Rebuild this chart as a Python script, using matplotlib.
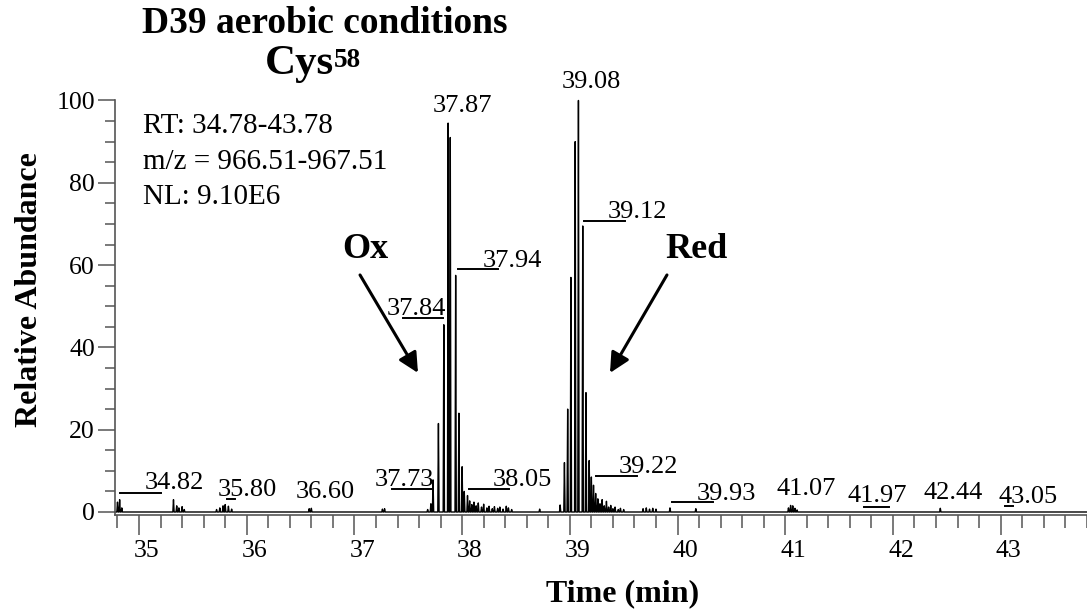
import numpy as np
import matplotlib
matplotlib.use("Agg")
import matplotlib.pyplot as plt
from matplotlib.ticker import MultipleLocator
from matplotlib.transforms import ScaledTranslation

plt.rcParams['font.family'] = ['Liberation Serif', 'DejaVu Serif']

# scan points of the XIC (retention time in min, relative abundance in %)
scan_times = [
    34.80, 34.82, 34.84,
    35.32, 35.35, 35.37, 35.40, 35.42,
    35.72, 35.75, 35.78, 35.80, 35.83, 35.86,
    36.58, 36.60,
    37.26, 37.28,
    37.68, 37.71, 37.73, 37.78, 37.83, 37.87, 37.89, 37.94, 37.97, 38.00, 38.02, 38.05,
    38.07, 38.09, 38.11, 38.13, 38.15, 38.18, 38.20, 38.23, 38.25, 38.28, 38.30, 38.33,
    38.35, 38.38, 38.41, 38.43, 38.46,
    38.72,
    38.91, 38.95, 38.98, 39.01, 39.05, 39.08, 39.12, 39.15, 39.18, 39.20, 39.22, 39.24,
    39.26, 39.28, 39.30, 39.32, 39.34, 39.36, 39.38, 39.40, 39.42, 39.45, 39.47, 39.50,
    39.68, 39.71, 39.74, 39.77, 39.80,
    39.93, 40.17,
    41.03, 41.05, 41.07, 41.09, 41.11,
    42.44,
]
scan_abund = [
    2.4, 3.0, 1.0,
    3.0, 1.5, 1.0, 1.3, 0.6,
    0.6, 1.0, 1.5, 1.8, 1.4, 0.7,
    0.8, 0.9,
    0.7, 0.8,
    0.6, 2.0, 7.8, 21.5, 45.5, 94.5, 91.0, 57.5, 24.0, 11.0, 5.0, 4.0,
    2.7, 1.8, 2.4, 1.5, 2.2, 1.2, 1.9, 1.0, 1.4, 0.8, 1.3, 0.9,
    1.2, 0.7, 1.4, 1.0, 0.6,
    0.7,
    1.7, 12.0, 25.0, 57.0, 90.0, 100.0, 69.5, 29.0, 12.5, 8.5, 6.5, 4.5,
    3.2, 2.0, 3.0, 1.5, 2.6, 1.2, 1.6, 0.8, 1.2, 0.6, 0.9, 0.6,
    0.8, 1.0, 0.7, 0.9, 0.7,
    1.0, 0.8,
    1.0, 1.6, 1.5, 0.9, 0.5,
    0.9,
]

# labelled retention times
peak_labels = ["34.82", "35.80", "36.60", "37.73", "37.84", "37.87", "37.94", "38.05",
               "39.08", "39.12", "39.22", "39.93", "41.07", "41.97", "42.44", "43.05"]

info_lines = ["RT: 34.78-43.78", "m/z = 966.51-967.51", "NL: 9.10E6"]

# where each label sits (data coords) and its leader line (x0, x1, y)
label_layout = [
    ((35.056, 5.6), (34.824, 35.204, 4.6)),
    ((35.734, 3.9), (35.817, 35.891, 3.2)),
    ((36.458, 3.4), None),
    ((37.191, 6.3), (37.349, 37.730, 5.6)),
    ((37.303, 47.9), (37.451, 37.822, 47.1)),
    ((37.730, 97.2), None),
    ((38.194, 59.5), (37.962, 38.334, 59.0)),
    ((38.287, 6.3), (38.064, 38.436, 5.6)),
    ((38.928, 103.0), None),
    ((39.355, 71.4), (39.132, 39.513, 70.7)),
    ((39.457, 9.5), (39.243, 39.624, 8.7)),
    ((40.181, 2.9), (39.949, 40.330, 2.4)),
    ((40.915, 4.1), None),
    ((41.574, 2.4), (41.732, 41.964, 1.2)),
    ((42.280, 3.2), None),
    ((42.976, 2.2), (43.041, 43.115, 1.5)),
]

axis_grey = "#555555"

fig = plt.figure(figsize=(10.87, 6.13), dpi=100)
ax = fig.add_axes([0.1061, 0.1594, 0.8937, 0.6767])

# each scan is a narrow spike that returns to the baseline
t = np.array(scan_times)
a = np.array(scan_abund)
w = 0.006
xs = np.column_stack([t - w, t, t + w]).ravel()
ys = np.column_stack([np.zeros_like(a), a, np.zeros_like(a)]).ravel()
xs = np.concatenate([[34.78], xs, [43.80]])
ys = np.concatenate([[0], ys, [0]])
ax.plot(xs, ys, color="black", lw=1.0, clip_on=False)

ax.set_xlim(34.78, 43.80)
ax.set_ylim(-0.8, 100)

for sp in ["top", "right"]:
    ax.spines[sp].set_visible(False)
for sp in ["left", "bottom"]:
    ax.spines[sp].set_color(axis_grey)
    ax.spines[sp].set_linewidth(1.2)

ax.xaxis.set_major_locator(MultipleLocator(1))
ax.xaxis.set_minor_locator(MultipleLocator(0.2))
ax.yaxis.set_major_locator(MultipleLocator(20))
ax.yaxis.set_minor_locator(MultipleLocator(5))
ax.tick_params(axis="x", which="major", length=14.5, width=1.1, color=axis_grey,
               labelsize=18.5, pad=3.5)
ax.tick_params(axis="x", which="minor", length=9.5, width=1.1, color=axis_grey)
ax.tick_params(axis="y", which="major", length=12.2, width=1.1, color=axis_grey,
               labelsize=18.5, pad=2.5)
ax.tick_params(axis="y", which="minor", length=7.2, width=1.1, color=axis_grey)

ax.set_xticks(np.arange(35, 44))
ax.set_xticklabels([str(v) for v in range(35, 44)])
shift = ScaledTranslation(8 / 100, 0, fig.dpi_scale_trans)
for lab in ax.get_xticklabels():
    lab.set_transform(lab.get_transform() + shift)

# peak labels with leader lines
for text, (pos, leader) in zip(peak_labels, label_layout):
    ax.text(pos[0], pos[1], text, fontsize=19, ha="left", va="baseline", clip_on=False)
    if leader is not None:
        ax.plot([leader[0], leader[1]], [leader[2], leader[2]], color="black",
                lw=1.4, clip_on=False)

# Ox / Red markers
arrow = dict(arrowstyle="-|>", color="black", lw=2.2, mutation_scale=30,
             shrinkA=0, shrinkB=0)
ax.text(37.101, 61.7, "Ox", fontsize=26, fontweight="bold", ha="center", va="baseline")
ax.annotate("", xy=(37.590, 33.8), xytext=(37.052, 57.6), arrowprops=arrow)
ax.text(40.18, 61.7, "Red", fontsize=26, fontweight="bold", ha="center", va="baseline")
ax.annotate("", xy=(39.373, 33.8), xytext=(39.902, 57.6), arrowprops=arrow)

# acquisition info
for i, line in enumerate(info_lines):
    fig.text(143 / 1087, 1 - (133 + 35.5 * i) / 613, line, fontsize=21, va="baseline")

# title
fig.text(325 / 1087, 1 - 33 / 613, "D39 aerobic conditions", fontsize=27,
         fontweight="bold", ha="center", va="baseline")
fig.text(265 / 1087, 1 - 74 / 613, "Cys", fontsize=31, fontweight="bold",
         ha="left", va="baseline")
fig.text(334 / 1087, 1 - 67 / 613, "58", fontsize=19.5, fontweight="bold",
         ha="left", va="baseline")

ax.set_xlabel("Time (min)", fontsize=23, fontweight="bold", va="baseline")
ax.xaxis.set_label_coords(623 / 1087, 1 - 601 / 613, transform=fig.transFigure)
ax.set_ylabel("Relative Abundance", fontsize=23, fontweight="bold", va="baseline")
ax.yaxis.set_label_coords(37 / 1087, 1 - 289.5 / 613, transform=fig.transFigure)

fig.savefig("out.png", dpi=100)
